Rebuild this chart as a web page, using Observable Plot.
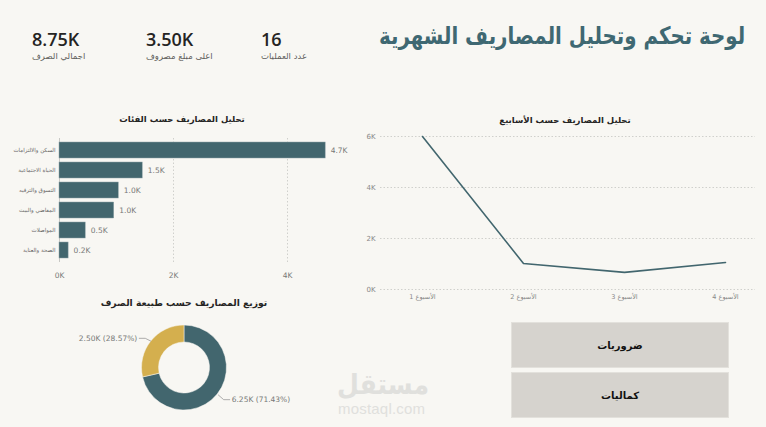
<!DOCTYPE html>
<html lang="ar">
<head>
<meta charset="utf-8">
<script src="https://cdn.jsdelivr.net/npm/d3@7"></script>
<script src="https://cdn.jsdelivr.net/npm/@observablehq/plot@0.6"></script>
<style>
  html, body { margin:0; padding:0; }
  body { width:766px; height:427px; background:#f8f7f3; position:relative; overflow:hidden; font-family:"DejaVu Sans", sans-serif; }
  .abs { position:absolute; }
  .title { right:21px; top:22px; font-family:"DejaVu Sans", sans-serif; font-weight:bold; font-size:24px; color:#3f6872; direction:rtl; white-space:nowrap; transform-origin:right center; }
  .kpi { top:28px; }
  .kpi .num { font-family:"Open Sans", sans-serif; font-weight:600; font-size:18px; color:#252423; line-height:22px; }
  .kpi .lab { font-size:8.5px; color:#605e5c; direction:rtl; text-align:left; margin-top:1px; white-space:nowrap; }
  .ctitle { font-weight:bold; color:#252423; direction:rtl; white-space:nowrap; width:300px; text-align:center; }
  .btn { left:511px; width:218px; height:46px; background:#d6d3ce; border:1px solid #e3e1dc; box-sizing:border-box; display:flex; align-items:center; justify-content:center; font-weight:bold; font-size:10px; color:#111; direction:rtl; }
  .wm1 { left:337px; top:368px; font-family:"DejaVu Sans", sans-serif; font-weight:bold; font-size:28px; color:#e0e0dd; direction:rtl; white-space:nowrap; transform-origin:left top; }
  .wm2 { left:338px; top:400px; font-family:"Liberation Sans", Arial, sans-serif; font-size:15px; color:#e0e0dd; letter-spacing:0.2px; }
  svg { overflow:visible; }
</style>
</head>
<body>
<script>
// ---------- data ----------
const dashboardTitle = "لوحة تحكم وتحليل المصاريف الشهرية";
const kpiValues = ["8.75K", "3.50K", "16"];
const kpiLabels = ["اجمالي الصرف", "اعلى مبلغ مصروف", "عدد العمليات"];

const categories = ["السكن والالتزامات", "الحياة الاجتماعية", "التسوق والترفيه", "المقاضي والبيت", "المواصلات", "الصحة والعناية"];
const categoryValues = [4.67, 1.46, 1.04, 0.96, 0.46, 0.16]; // thousands
const categoryTicks = [0, 2, 4];

const weeks = ["الأسبوع 1", "الأسبوع 2", "الأسبوع 3", "الأسبوع 4"];
const weekValues = [6.0, 1.02, 0.67, 1.06]; // thousands
const weekTicks = [0, 2, 4, 6];

const types = ["ضروريات", "كماليات"];
const typeValues = [6.25, 2.50]; // thousands
const typeColors = ["#42666e", "#d4af4e"];

const chartTitles = ["تحليل المصاريف حسب الفئات", "تحليل المصاريف حسب الأسابيع", "توزيع المصاريف حسب طبيعة الصرف"];

const teal = "#42666e";
const fmtK = d => d + "K";

// ---------- page text ----------
function addDiv(cls, text, style) {
  const d = document.createElement("div");
  d.className = "abs " + cls;
  if (text != null) d.textContent = text;
  Object.assign(d.style, style || {});
  document.body.appendChild(d);
  return d;
}
const t = addDiv("title", dashboardTitle);
{ const w = t.getBoundingClientRect().width; if (w > 366) t.style.transform = `scaleX(${366 / w})`; }
const kpiX = [32, 146, 261];
kpiValues.forEach((v, i) => {
  const d = addDiv("kpi", null, {left: kpiX[i] + "px"});
  d.innerHTML = `<div class="num">${v}</div><div class="lab">${kpiLabels[i]}</div>`;
});
addDiv("ctitle", chartTitles[0], {left: (182 - 150) + "px", top: "114px", fontSize: "8.5px"});
addDiv("ctitle", chartTitles[1], {left: (565 - 150) + "px", top: "115px", fontSize: "8.5px"});
addDiv("ctitle", chartTitles[2], {left: (184 - 150) + "px", top: "297px", fontSize: "9.2px"});

// ---------- bar chart ----------
const catData = categories.map((c, i) => ({c, v: categoryValues[i]}));
const bar = Plot.plot({
  width: 360, height: 155,
  marginLeft: 59, marginRight: 16, marginTop: 10, marginBottom: 21,
  style: {background: "transparent", fontFamily: "DejaVu Sans, sans-serif", overflow: "visible"},
  x: {domain: [0, 5], label: null},
  y: {domain: categories, padding: 0.2, label: null},
  marks: [
    Plot.ruleX(categoryTicks, {stroke: "#d0d0cc", strokeDasharray: "1.5,2"}),
    Plot.ruleX([0], {stroke: "#c8c8c4"}),
    Plot.barX(catData, {x: "v", y: "c", fill: teal, stroke: "#8fa3a8", strokeWidth: 0.5}),
    Plot.text(catData, {x: "v", y: "c", text: d => d3.format(".1f")(d.v) + "K", textAnchor: "start", dx: 5, fontSize: 7.5, fill: "#777"}),
    Plot.axisX({ticks: categoryTicks, tickFormat: fmtK, tickSize: 0, tickPadding: 10, fontSize: 7.5, color: "#777", label: null}),
    Plot.axisY({tickSize: 0, tickPadding: 4, fontSize: 5.5, color: "#666", label: null})
  ]
});
Object.assign(bar.style, {position: "absolute", left: "0px", top: "128px"});
document.body.appendChild(bar);

// ---------- line chart ----------
const weekData = weeks.map((w, i) => ({w, v: weekValues[i]}));
const line = Plot.plot({
  width: 406, height: 180,
  marginLeft: 20, marginRight: 11, marginTop: 8, marginBottom: 19,
  style: {background: "transparent", fontFamily: "DejaVu Sans, sans-serif", overflow: "visible"},
  x: {type: "point", domain: weeks, range: [61, 365], padding: 0, label: null},
  y: {domain: [0, 6], label: null},
  marks: [
    Plot.ruleY(weekTicks, {stroke: "#d0d0cc", strokeDasharray: "1.5,2"}),
    Plot.line(weekData, {x: "w", y: "v", stroke: teal, strokeWidth: 1.6}),
    Plot.axisY({ticks: weekTicks, tickFormat: fmtK, tickSize: 0, tickPadding: 5, fontSize: 7, color: "#888", label: null}),
    Plot.axisX({tickSize: 0, tickPadding: 5, fontSize: 6.5, color: "#888", label: null})
  ]
});
Object.assign(line.style, {position: "absolute", left: "360px", top: "128px"});
document.body.appendChild(line);

// ---------- donut ----------
const total = d3.sum(typeValues);
const typeData = types.map((t, i) => ({t, v: typeValues[i], color: typeColors[i]}));
const pie = d3.pie().value(d => d.v)(typeData);
const R = 42.5, r0 = 25.5;
const cx = 124, cy = 77.5;
const leaders = [];
const labelsL = [], labelsR = [];
pie.forEach(p => {
  const a = (p.startAngle + p.endAngle) / 2;
  const sx = Math.sin(a), sy = -Math.cos(a);
  const x1 = cx + sx * R * 1.02, y1 = cy + sy * R * 1.02;
  const x2 = cx + sx * R * 1.18, y2 = cy + sy * R * 1.12 + (sy < 0 ? 0 : 2);
  const x3 = x2 + (sx < 0 ? -6 : 6);
  leaders.push({id: p.data.t, x: x1, y: y1}, {id: p.data.t, x: x2, y: y2}, {id: p.data.t, x: x3, y: y2});
  const lab = {x: x3 + (sx < 0 ? -2 : 2), y: y2,
    text: d3.format(".2f")(p.data.v) + "K (" + d3.format(".2f")(p.data.v / total * 100) + "%)"};
  (sx < 0 ? labelsL : labelsR).push(lab);
});
const donut = Plot.plot({
  width: 250, height: 130, margin: 0,
  style: {background: "transparent", fontFamily: "DejaVu Sans, sans-serif", overflow: "visible"},
  x: {domain: [0, 250], range: [0, 250], axis: null},
  y: {domain: [0, 130], range: [0, 130], axis: null},
  marks: [
    (index, scales) => {
      const g = d3.create("svg:g");
      const arc = d3.arc().innerRadius(r0).outerRadius(R);
      g.selectAll("path").data(pie).join("path")
        .attr("d", arc)
        .attr("transform", `translate(${scales.x(cx)},${scales.y(cy)})`)
        .attr("fill", d => d.data.color)
        .attr("stroke", "#f8f7f3").attr("stroke-width", 0.5);
      return g.node();
    },
    Plot.line(leaders, {x: "x", y: "y", z: "id", stroke: "#999", strokeWidth: 0.8}),
    Plot.text(labelsL, {x: "x", y: "y", text: "text", textAnchor: "end", fontSize: 7.5, fill: "#777"}),
    Plot.text(labelsR, {x: "x", y: "y", text: "text", textAnchor: "start", fontSize: 7.5, fill: "#777"})
  ]
});
Object.assign(donut.style, {position: "absolute", left: "60px", top: "290px"});
document.body.appendChild(donut);

// ---------- buttons ----------
const btnTop = [322, 372];
types.forEach((t, i) => addDiv("btn", t, {top: btnTop[i] + "px"}));

// ---------- watermark ----------
const wm = addDiv("wm1", "مستقل");
{ const w = wm.getBoundingClientRect().width; if (w > 92) wm.style.transform = `scaleX(${92 / w})`; }
addDiv("wm2", "mostaql.com");
</script>
</body>
</html>
